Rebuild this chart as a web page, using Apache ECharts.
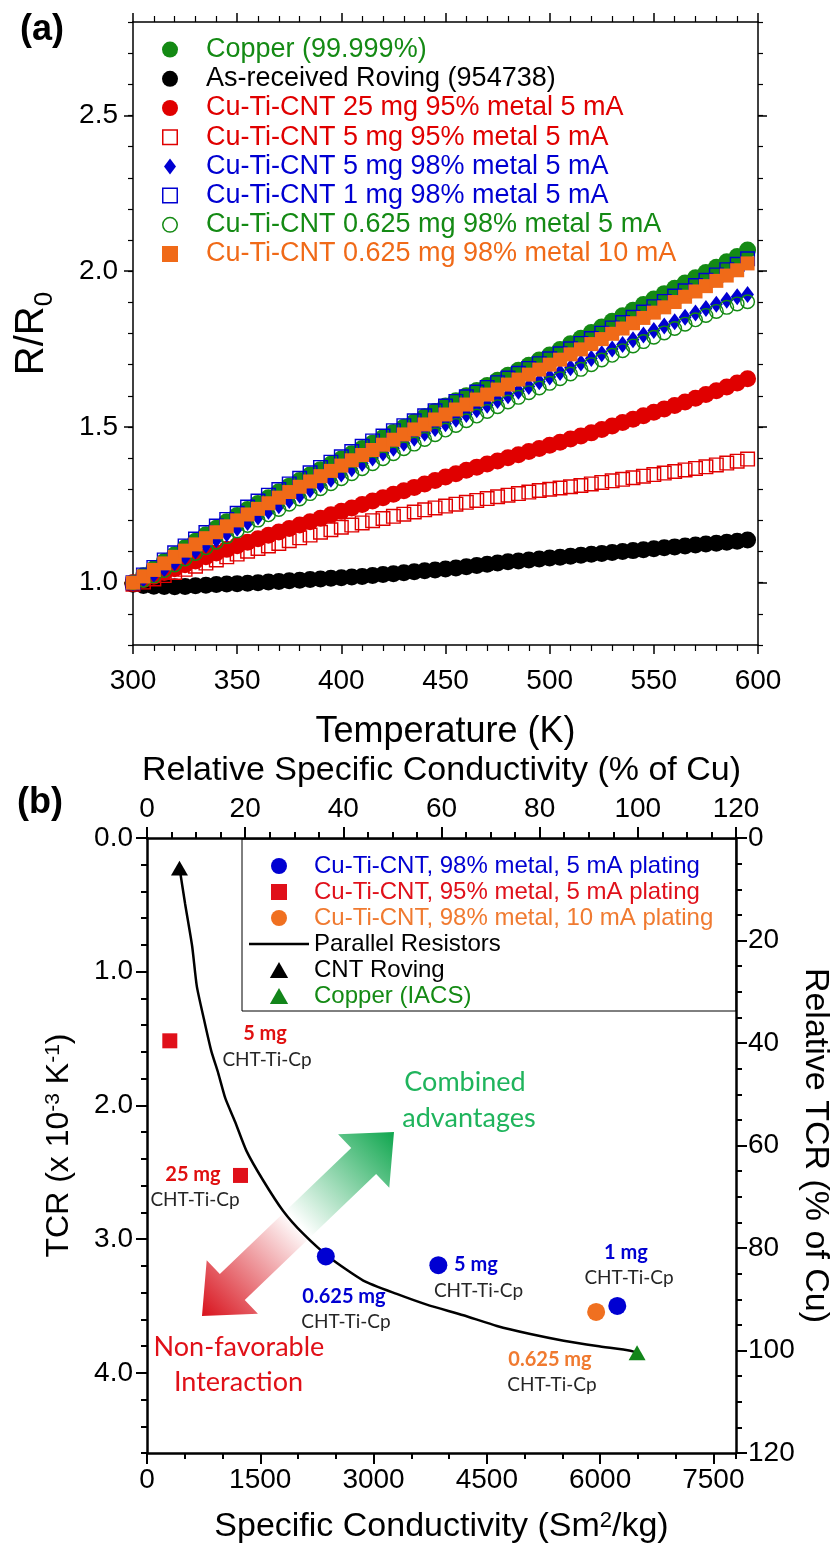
<!DOCTYPE html>
<html><head><meta charset="utf-8">
<script src="https://cdn.jsdelivr.net/npm/echarts@6/dist/echarts.min.js"></script>
<style>html,body{margin:0;padding:0;background:#fff}#c{width:840px;height:1549px}</style>
</head><body><div id="c"></div>
<script>
// ---------- Panel (a) data ----------
const T = [300,305,310,315,320,325,330,335,340,345,350,355,360,365,370,375,380,385,390,395,
400,405,410,415,420,425,430,435,440,445,450,455,460,465,470,475,480,485,490,495,
500,505,510,515,520,525,530,535,540,545,550,555,560,565,570,575,580,585,590,595];
const copper = [1.000,1.022,1.045,1.068,1.090,1.112,1.133,1.154,1.175,1.196,
1.216,1.235,1.254,1.273,1.292,1.310,1.328,1.346,1.363,1.380,
1.397,1.414,1.431,1.448,1.465,1.482,1.499,1.516,1.533,1.550,
1.567,1.584,1.600,1.617,1.633,1.650,1.666,1.682,1.698,1.715,
1.731,1.749,1.767,1.785,1.803,1.821,1.839,1.857,1.875,1.893,
1.911,1.928,1.945,1.962,1.979,1.996,2.013,2.030,2.047,2.068];
const roving = [0.995,0.991,0.989,0.988,0.987,0.988,0.990,0.992,0.994,0.996,
0.997,0.998,1.000,1.002,1.004,1.006,1.008,1.010,1.012,1.014,
1.016,1.018,1.020,1.023,1.026,1.029,1.032,1.035,1.038,1.041,
1.044,1.047,1.051,1.055,1.059,1.063,1.067,1.070,1.073,1.076,
1.079,1.082,1.085,1.088,1.091,1.094,1.097,1.100,1.103,1.106,
1.109,1.112,1.115,1.118,1.121,1.124,1.127,1.130,1.133,1.137];
const cnt25mg95 = [1.000,1.010,1.021,1.033,1.045,1.058,1.070,1.083,1.095,1.107,
1.119,1.130,1.141,1.152,1.163,1.174,1.185,1.196,1.207,1.218,
1.229,1.240,1.251,1.262,1.273,1.284,1.295,1.306,1.317,1.328,
1.339,1.350,1.361,1.371,1.381,1.391,1.401,1.411,1.421,1.431,
1.441,1.451,1.461,1.471,1.481,1.492,1.503,1.514,1.525,1.536,
1.547,1.558,1.569,1.580,1.592,1.604,1.616,1.628,1.641,1.655];
const cnt5mg95 = [0.995,1.002,1.012,1.023,1.033,1.043,1.053,1.063,1.073,1.083,
1.092,1.101,1.110,1.118,1.126,1.135,1.144,1.153,1.162,1.170,
1.178,1.185,1.192,1.199,1.206,1.213,1.220,1.227,1.234,1.240,
1.246,1.252,1.258,1.264,1.270,1.276,1.281,1.286,1.291,1.296,
1.300,1.304,1.308,1.312,1.317,1.322,1.327,1.332,1.337,1.342,
1.347,1.352,1.357,1.362,1.367,1.372,1.378,1.384,1.390,1.397];
const cnt5mg98 = [1.000,1.012,1.027,1.045,1.064,1.083,1.102,1.121,1.139,1.157,
1.175,1.193,1.211,1.229,1.247,1.264,1.281,1.298,1.315,1.332,
1.349,1.366,1.383,1.400,1.416,1.432,1.448,1.464,1.480,1.495,
1.510,1.525,1.540,1.555,1.570,1.585,1.600,1.615,1.630,1.645,
1.660,1.675,1.690,1.705,1.720,1.735,1.750,1.765,1.780,1.795,
1.810,1.824,1.838,1.852,1.866,1.880,1.894,1.907,1.918,1.925];
const cnt1mg98 = [1.000,1.025,1.049,1.073,1.096,1.118,1.140,1.161,1.182,1.203,
1.223,1.243,1.262,1.281,1.299,1.317,1.335,1.353,1.370,1.387,
1.404,1.421,1.438,1.455,1.471,1.488,1.504,1.520,1.536,1.552,
1.567,1.582,1.597,1.612,1.627,1.642,1.657,1.672,1.688,1.703,
1.719,1.735,1.751,1.768,1.784,1.801,1.818,1.835,1.852,1.869,
1.886,1.903,1.920,1.937,1.954,1.971,1.988,2.005,2.022,2.040];
const cnt0625mg98 = [1.000,1.008,1.022,1.039,1.057,1.076,1.094,1.112,1.130,1.148,
1.166,1.184,1.201,1.218,1.235,1.252,1.269,1.286,1.302,1.318,
1.334,1.350,1.366,1.382,1.398,1.414,1.430,1.445,1.460,1.475,
1.490,1.505,1.520,1.535,1.550,1.565,1.580,1.595,1.610,1.625,
1.640,1.655,1.670,1.685,1.700,1.715,1.730,1.745,1.760,1.774,
1.788,1.802,1.816,1.830,1.844,1.858,1.871,1.884,1.895,1.902];
const cnt0625mg10mA = [1.000,1.020,1.041,1.062,1.083,1.103,1.123,1.143,1.162,1.181,
1.200,1.219,1.237,1.255,1.273,1.291,1.308,1.325,1.342,1.359,
1.376,1.393,1.410,1.426,1.443,1.459,1.476,1.492,1.508,1.524,
1.540,1.556,1.572,1.588,1.604,1.620,1.636,1.652,1.668,1.684,
1.700,1.716,1.733,1.749,1.766,1.782,1.799,1.816,1.833,1.850,
1.867,1.884,1.901,1.918,1.935,1.952,1.969,1.986,2.003,2.025];
const aYMajor = [1.0, 1.5, 2.0, 2.5];

// ---------- Panel (b) data ----------
const parX = [430,504,598,660,756,850,944,1039,1165,1317,1537,1803,2068,2422,2864,3307,3705,4190,4634,5077,5518,5961,6402,6490];
const parY = [0.22,0.49,0.81,1.11,1.36,1.59,1.76,1.95,2.12,2.34,2.56,2.79,2.96,3.14,3.31,3.41,3.49,3.57,3.65,3.71,3.76,3.80,3.835,3.85];
const blueX = [2368, 3858, 6228];   const blueY = [3.13, 3.195, 3.50];
const redX = [302, 1238];           const redY = [1.517, 2.524];
const orangeX = [5948];             const orangeY = [3.545];
const rovingX = [430];              const rovingY = [0.225];
const copperX = [6490];             const copperY = [3.85];
const bXMajor = [0,1500,3000,4500,6000,7500];
const bYMajor = [0,1,2,3,4];

const F = "'Liberation Sans', Arial, sans-serif";
const GREEN='#148a14', RED='#e00000', BLUE='#0000d2', ORANGE='#f06a18';
const SQ = 'path://M0,0L16,0L16,16L0,16Z';
const SQ_OPEN = 'path://M0,0L16,0L16,16L0,16ZM1.5,1.5L1.5,14.5L14.5,14.5L14.5,1.5Z';
const CIRC_OPEN = 'path://M8,0A8,8,0,1,1,8,16A8,8,0,1,1,8,0ZM8,1.5A6.5,6.5,0,1,0,8,14.5A6.5,6.5,0,1,0,8,1.5Z';
const DIAM = 'path://M6,0L12,8L6,16L0,8Z';
const TRI = 'path://M8,0L16,14L0,14Z';
const LINE_ICON = 'path://M0,0L60,0L60,2.6L0,2.6Z';
const zip = (a,b) => a.map((v,i)=>[v,b[i]]);
const LAB = {fontSize:28, color:'#000', fontFamily:F};
const line = w => ({show:true, onZero:false, lineStyle:{color:'#000', width:w}});
const tick = (l,w) => ({show:true, length:l, lineStyle:{color:'#000', width:w}});
const base = {type:'value', splitLine:{show:false}, minorSplitLine:{show:false}, nameMoveOverlap:false};
const sc = (name, xi, yi, symbol, size, color, data, z) => ({name, type:'scatter', xAxisIndex:xi, yAxisIndex:yi,
  symbol, symbolSize:size, symbolKeepAspect:true, itemStyle:{color, opacity:1}, data, z:z||2});

const chart = echarts.init(document.getElementById('c'), null, {renderer:'canvas', width:840, height:1549});

const option = {
  animation:false,
  backgroundColor:'#fff',
  textStyle:{fontFamily:F},
  grid:[
    {left:133, right:82, top:22, height:623, outerBoundsMode:'none'},
    {left:147, right:104, top:838, height:615, outerBoundsMode:'none'}
  ],
  xAxis:[
    Object.assign({}, base, {gridIndex:0, position:'bottom', min:300, max:600, interval:50,
      axisLine:line(1.5), axisTick:tick(9,1.5), minorTick:{show:true, splitNumber:5, length:6, lineStyle:{color:'#000', width:1.2}},
      axisLabel:Object.assign({margin:22}, LAB),
      name:'Temperature (K)', nameLocation:'middle', nameGap:69, nameTextStyle:{fontSize:36, color:'#000', fontFamily:F}}),
    Object.assign({}, base, {gridIndex:0, position:'top', min:300, max:600, interval:50,
      axisLine:line(1.5), axisTick:tick(9,1.5), minorTick:{show:true, splitNumber:5, length:6, lineStyle:{color:'#000', width:1.2}},
      axisLabel:{show:false}}),
    Object.assign({}, base, {gridIndex:1, position:'bottom', min:0, max:7800, interval:500,
      axisLine:line(2.5), axisTick:tick(6,2),
      axisLabel:Object.assign({margin:13, formatter:v => (v % 1500 === 0 ? String(v) : '')}, LAB),
      name:'{n|Specific Conductivity (Sm}{s|2}{n|/kg)}', nameLocation:'middle', nameGap:57,
      nameTextStyle:{color:'#000', rich:{
        n:{fontSize:34, lineHeight:36, verticalAlign:'top', fontFamily:F, color:'#000'},
        s:{fontSize:22, lineHeight:22, padding:[0,0,14,0], verticalAlign:'top', fontFamily:F, color:'#000'}}}}),
    Object.assign({}, base, {gridIndex:1, position:'bottom', min:0, max:7800,
      axisLine:{show:false, onZero:false}, axisTick:{show:true, customValues:bXMajor, length:11, lineStyle:{color:'#000', width:2}},
      axisLabel:{show:false}}),
    Object.assign({}, base, {gridIndex:1, position:'top', min:0, max:120, interval:20,
      axisLine:line(2.5), axisTick:tick(11,2), minorTick:{show:true, splitNumber:4, length:6, lineStyle:{color:'#000', width:2}},
      axisLabel:Object.assign({margin:15}, LAB),
      name:'Relative Specific Conductivity (% of Cu)', nameLocation:'middle', nameGap:50,
      nameTextStyle:{fontSize:34, color:'#000', fontFamily:F}})
  ],
  yAxis:[
    Object.assign({}, base, {gridIndex:0, position:'left', min:0.8, max:2.8, interval:0.1,
      axisLine:line(1.5), axisTick:tick(5,1.2),
      axisLabel:Object.assign({margin:15, formatter:v => (Math.abs(v*2-Math.round(v*2))<1e-6 ? v.toFixed(1) : '')}, LAB),
      name:'{n|R/R}{s|0}', nameLocation:'middle', nameGap:79, nameRotate:90,
      nameTextStyle:{color:'#000', rich:{
        n:{fontSize:40, lineHeight:42, verticalAlign:'top', fontFamily:F, color:'#000'},
        s:{fontSize:26, lineHeight:26, padding:[20,0,0,0], verticalAlign:'top', fontFamily:F, color:'#000'}}}}),
    Object.assign({}, base, {gridIndex:0, position:'left', min:0.8, max:2.8,
      axisLine:{show:false, onZero:false}, axisTick:{show:true, customValues:aYMajor, length:9, lineStyle:{color:'#000', width:1.5}},
      axisLabel:{show:false}}),
    Object.assign({}, base, {gridIndex:0, position:'right', min:0.8, max:2.8, interval:0.1,
      axisLine:line(1.5), axisTick:tick(5,1.2), axisLabel:{show:false}}),
    Object.assign({}, base, {gridIndex:0, position:'right', min:0.8, max:2.8,
      axisLine:{show:false, onZero:false}, axisTick:{show:true, customValues:aYMajor, length:9, lineStyle:{color:'#000', width:1.5}},
      axisLabel:{show:false}}),
    Object.assign({}, base, {gridIndex:1, position:'left', min:0, max:4.6, interval:0.2, inverse:true,
      axisLine:line(2.5), axisTick:tick(6,2),
      axisLabel:Object.assign({margin:14, formatter:v => (Math.abs(v-Math.round(v))<1e-6 ? v.toFixed(1) : '')}, LAB),
      name:'{n|TCR (x 10}{s|-3}{n| K}{s|-1}{n|)}', nameLocation:'middle', nameGap:70, nameRotate:90,
      nameTextStyle:{color:'#000', rich:{
        n:{fontSize:32, lineHeight:34, verticalAlign:'top', fontFamily:F, color:'#000'},
        s:{fontSize:21, lineHeight:21, padding:[0,0,13,0], verticalAlign:'top', fontFamily:F, color:'#000'}}}}),
    Object.assign({}, base, {gridIndex:1, position:'left', min:0, max:4.6, inverse:true,
      axisLine:{show:false, onZero:false}, axisTick:{show:true, customValues:bYMajor, length:11, lineStyle:{color:'#000', width:2}},
      axisLabel:{show:false}}),
    Object.assign({}, base, {gridIndex:1, position:'right', min:0, max:120, interval:20, inverse:true,
      axisLine:line(2.5), axisTick:tick(11,2), minorTick:{show:true, splitNumber:4, length:6, lineStyle:{color:'#000', width:2}},
      axisLabel:Object.assign({margin:12}, LAB),
      name:'Relative TCR (% of Cu)', nameLocation:'middle', nameGap:62, nameRotate:-90,
      nameTextStyle:{fontSize:34, color:'#000', fontFamily:F}})
  ],
  legend:[
    {orient:'vertical', left:162, top:35, padding:0, itemWidth:62, itemHeight:16, itemGap:0, selectedMode:false, symbolKeepAspect:true,
     textStyle:{fontSize:27, lineHeight:29.2, fontFamily:F},
     data:[
      {name:'Copper (99.999%)', textStyle:{color:GREEN}},
      {name:'As-received Roving (954738)', textStyle:{color:'#000'}},
      {name:'Cu-Ti-CNT 25 mg 95% metal 5 mA', textStyle:{color:RED}},
      {name:'Cu-Ti-CNT 5 mg 95% metal 5 mA', textStyle:{color:RED}},
      {name:'Cu-Ti-CNT 5 mg 98% metal 5 mA', textStyle:{color:BLUE}},
      {name:'Cu-Ti-CNT 1 mg 98% metal 5 mA', textStyle:{color:BLUE}},
      {name:'Cu-Ti-CNT 0.625 mg 98% metal 5 mA', textStyle:{color:GREEN}},
      {name:'Cu-Ti-CNT 0.625 mg 98% metal 10 mA', textStyle:{color:ORANGE}}
     ]},
    {orient:'vertical', left:249, top:853, padding:0, itemWidth:60, itemHeight:16, itemGap:0, selectedMode:false, symbolKeepAspect:true,
     textStyle:{fontSize:24, lineHeight:26, fontFamily:F},
     data:[
      {name:'Cu-Ti-CNT, 98% metal, 5 mA plating', textStyle:{color:BLUE}},
      {name:'Cu-Ti-CNT, 95% metal, 5 mA plating', textStyle:{color:'#e0101a'}},
      {name:'Cu-Ti-CNT, 98% metal, 10 mA plating', textStyle:{color:'#f07a30'}},
      {name:'Parallel Resistors', icon:LINE_ICON, itemStyle:{color:'#000'}, textStyle:{color:'#000'}},
      {name:'CNT Roving', textStyle:{color:'#000'}},
      {name:'Copper (IACS)', textStyle:{color:GREEN}}
     ]}
  ],
  series:[
    sc('Copper (99.999%)', 0, 0, 'circle', 17, GREEN, zip(T,copper)),
    sc('As-received Roving (954738)', 0, 0, 'circle', 17, '#000', zip(T,roving)),
    sc('Cu-Ti-CNT 25 mg 95% metal 5 mA', 0, 0, 'circle', 17, RED, zip(T,cnt25mg95)),
    sc('Cu-Ti-CNT 5 mg 95% metal 5 mA', 0, 0, SQ_OPEN, 15, RED, zip(T,cnt5mg95)),
    sc('Cu-Ti-CNT 5 mg 98% metal 5 mA', 0, 0, DIAM, 17, BLUE, zip(T,cnt5mg98)),
    sc('Cu-Ti-CNT 1 mg 98% metal 5 mA', 0, 0, SQ_OPEN, 15, BLUE, zip(T,cnt1mg98)),
    sc('Cu-Ti-CNT 0.625 mg 98% metal 5 mA', 0, 0, CIRC_OPEN, 15, GREEN, zip(T,cnt0625mg98)),
    sc('Cu-Ti-CNT 0.625 mg 98% metal 10 mA', 0, 0, SQ, 14, ORANGE, zip(T,cnt0625mg10mA)),

    {name:'Parallel Resistors', type:'line', xAxisIndex:2, yAxisIndex:4, symbol:'none', smooth:0.2,
     lineStyle:{color:'#000', width:2.5}, itemStyle:{color:'#000'}, data:zip(parX,parY), z:3},
    sc('Cu-Ti-CNT, 98% metal, 5 mA plating', 2, 4, 'circle', 18, BLUE, zip(blueX,blueY), 4),
    sc('Cu-Ti-CNT, 95% metal, 5 mA plating', 2, 4, SQ, 15, '#e0101a', zip(redX,redY), 4),
    sc('Cu-Ti-CNT, 98% metal, 10 mA plating', 2, 4, 'circle', 18, '#f07020', zip(orangeX,orangeY), 4),
    sc('CNT Roving', 2, 4, TRI, 17, '#000', zip(rovingX,rovingY), 4),
    sc('Copper (IACS)', 2, 4, TRI, 17, '#12851a', zip(copperX,copperY), 4)
  ]
};
chart.setOption(option);

// ---------- Annotations of panel (b), anchored in data coordinates ----------
const notes = [
  {t:'5 mg', x:1563, y:1.466, c:'#e01010', b:true},
  {t:'CHT-Ti-Cp', x:1589, y:1.660},
  {t:'25 mg', x:609, y:2.521, c:'#e01010', b:true},
  {t:'CHT-Ti-Cp', x:636, y:2.708},
  {t:'0.625 mg', x:2609, y:3.433, c:BLUE, b:true},
  {t:'CHT-Ti-Cp', x:2635, y:3.620},
  {t:'5 mg', x:4357, y:3.194, c:BLUE, b:true},
  {t:'CHT-Ti-Cp', x:4390, y:3.388},
  {t:'1 mg', x:6343, y:3.097, c:BLUE, b:true},
  {t:'CHT-Ti-Cp', x:6383, y:3.291},
  {t:'0.625 mg', x:5337, y:3.904, c:'#f07a30', b:true},
  {t:'CHT-Ti-Cp', x:5363, y:4.091},
  {t:'Combined', x:4211, y:1.825, c:'#1fb45c', big:true},
  {t:'advantages', x:4264, y:2.094, c:'#1fb45c', big:true},
  {t:'Non-favorable', x:1218, y:3.807, c:'#e01018', big:true},
  {t:'Interaction', x:1212, y:4.069, c:'#e01018', big:true}
];
const toPx = p => chart.convertToPixel({xAxisIndex:2, yAxisIndex:4}, p);
const graphics = [];
notes.forEach(n => {
  const p = toPx([n.x, n.y]);
  const font = n.big ? "27px Lato, 'Open Sans', sans-serif" : (n.b ? "bold 20px Lato, 'Open Sans', sans-serif" : "19px Lato, 'Open Sans', sans-serif");
  graphics.push({type:'text', x:p[0], y:p[1], z:100, style:{text:n.t, font:font, fill:n.c || '#262626', align:'center', verticalAlign:'middle'}});
});
// double-headed gradient arrow
const arrowEnds = [[728, 3.575], [3271, 2.199]];
const R = toPx(arrowEnds[0]), G = toPx(arrowEnds[1]);
const dx = G[0]-R[0], dy = G[1]-R[1], L = Math.hypot(dx,dy);
const u = [dx/L, dy/L], nv = [-u[1], u[0]];
const hl = 42, hw = 37, sw = 18;
const P = (o, a, b) => [o[0]+u[0]*a+nv[0]*b, o[1]+u[1]*a+nv[1]*b];
const poly = [R, P(R,hl,hw), P(R,hl,sw), P(G,-hl,sw), P(G,-hl,hw), G, P(G,-hl,-hw), P(G,-hl,-sw), P(R,hl,-sw), P(R,hl,-hw)];
graphics.push({type:'polygon', z:1, shape:{points:poly}, style:{
  fill:new echarts.graphic.LinearGradient(R[0],R[1],G[0],G[1],[
    {offset:0, color:'#d8121c'},{offset:0.5, color:'#ffffff'},{offset:1, color:'#0fa64e'}], true)}});
// legend frame of panel (b)
graphics.push({type:'rect', z:5, shape:{x:242, y:839, width:494, height:172}, style:{fill:'none', stroke:'#000', lineWidth:1}});
// panel labels
graphics.push({type:'text', x:42, y:30, z:100, style:{text:'(a)', font:"bold 36px 'Liberation Sans', Arial, sans-serif", fill:'#000', align:'center', verticalAlign:'middle'}});
graphics.push({type:'text', x:40, y:803, z:100, style:{text:'(b)', font:"bold 36px 'Liberation Sans', Arial, sans-serif", fill:'#000', align:'center', verticalAlign:'middle'}});
chart.setOption({graphic:graphics});
</script></body></html>
